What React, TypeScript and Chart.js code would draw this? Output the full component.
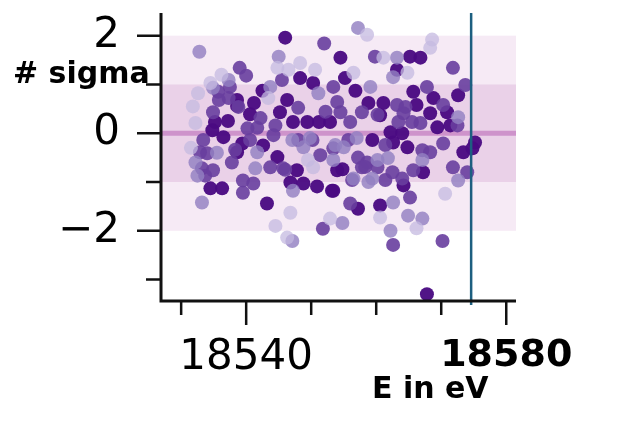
import { useEffect, useRef } from "react";
import { Chart, registerables } from "chart.js";

Chart.register(...registerables);

// residuals in units of sigma, grouped by shade (pale -> dark)
const palePoints: [number, number][] = [
  [18544.8, 1.34], [18546.5, 1.3], [18548.3, 1.44], [18550.6, 1.3], [18534.5, 1.03],
  [18532.6, 0.82], [18532.2, 0.21], [18550.3, -0.7], [18546.8, -1.63], [18544.5, -1.9],
  [18552.9, -1.75], [18546.3, -2.14], [18558.6, 2.02], [18568.6, 1.92], [18568.3, 1.75],
  [18561.1, 1.55], [18564.8, 1.24], [18556.5, 1.24], [18570.6, -1.24], [18560.6, -1.73],
  [18531.8, 0.55], [18536.2, 1.2], [18549.5, -0.55], [18566.2, -1.95], [18531.5, -0.3],
  [18543.4, 0.72]
];
const lightPoints: [number, number][] = [
  [18532.8, 1.67], [18545, 1.57], [18543.7, 0.95], [18534.9, 0.93], [18541.7, -0.39],
  [18547.1, -0.14], [18548.8, -0.29], [18541.4, -0.72], [18547.2, -1.18], [18533.2, -1.42],
  [18547.1, -2.21], [18532.5, -0.87], [18532.2, -0.6], [18537.3, 1.09], [18557.2, 2.16],
  [18563.2, 1.55], [18562.6, 1.15], [18559.1, 0.95], [18572.6, 0.33], [18557, -0.1],
  [18555, -0.29], [18561.8, -0.51], [18559.4, -0.93], [18562.6, -1.42], [18554.8, -1.84],
  [18564.9, -1.69], [18567.1, -1.75], [18562.2, -2.0], [18556.5, -0.93], [18572.6, -0.97],
  [18535.5, -0.4], [18551.1, 0.82], [18549.8, -0.1], [18553.7, -0.24], [18553.4, -0.55],
  [18560.2, -0.55], [18558.8, -1.0], [18567.1, -0.55]
];
const midPoints: [number, number][] = [
  [18552, 1.84], [18539, 1.34], [18540, 1.18], [18545.5, 1.09], [18535.7, 0.85],
  [18537.5, 0.95], [18535.8, 0.68], [18534.9, 0.43], [18542.2, 0.31], [18540.2, 0.1],
  [18544.5, 0.16], [18533.4, -0.14], [18540.6, -0.14], [18544.2, -0.04], [18550.2, -0.14],
  [18532.9, -0.39], [18534, -0.41], [18537.8, -0.6], [18551.4, -0.45], [18553.4, -0.31],
  [18533.2, -0.72], [18533.7, -0.87], [18543.7, -0.7], [18545.7, -0.72], [18539.5, -0.97],
  [18541.1, -1.03], [18539.5, -1.22], [18551.8, -1.96], [18534.9, -0.76], [18537.3, 0.72],
  [18559.8, 1.57], [18571.8, 1.34], [18553.4, 0.95], [18567.8, 0.95], [18573.7, 0.99],
  [18554, 0.64], [18563.2, 0.58], [18570.3, 0.58], [18554.5, 0.43], [18557.8, 0.43],
  [18564.2, 0.41], [18556, 0.23], [18563.4, 0.23], [18565.5, 0.23], [18566.8, 0.21],
  [18572.5, 0.16], [18567.1, -0.35], [18568.3, -0.39], [18570.3, -0.21], [18558.6, -0.6],
  [18560.2, -0.7], [18557.8, -0.7], [18562.5, -0.8], [18565.7, -0.76], [18571.8, -0.7],
  [18574, -0.8], [18564, -0.93], [18565.2, -1.32], [18556, -1.44], [18562.6, -2.29],
  [18570.2, -2.21], [18541.7, 0.11], [18538.8, 0.54], [18538.3, -0.34], [18546, -0.75],
  [18548, 0.52], [18552.2, 0.44], [18560.2, 0.38], [18548, -0.14], [18555.7, -0.14],
  [18561.4, -0.24], [18557.2, -0.5], [18558.3, -0.69], [18556.3, -0.96], [18561.4, -0.96],
  [18564.5, 0.54]
];
const darkPoints: [number, number][] = [
  [18546, 1.96], [18548.3, 1.13], [18550.3, 1.03], [18542.5, 0.87], [18538.6, 0.56],
  [18541.2, 0.62], [18546.3, 0.68], [18540.6, 0.39], [18545.2, 0.43], [18535.2, 0.23],
  [18537.2, 0.25], [18534.8, 0.06], [18547.2, 0.23], [18549.4, 0.23], [18551.2, 0.23],
  [18552.9, 0.23], [18536.5, -0.08], [18539.4, -0.21], [18542.6, -0.25], [18538.6, -0.39],
  [18544.8, -0.49], [18547.8, -0.76], [18554, -0.76], [18534.5, -1.13], [18536.3, -1.13],
  [18546.8, -1.01], [18548.8, -1.03], [18550.9, -1.09], [18553.2, -1.18], [18543.2, -1.44],
  [18538.6, 0.68], [18554.5, 1.55], [18565.2, 1.57], [18566.8, 1.55], [18563.2, 1.3],
  [18555.2, 1.13], [18556.8, 0.87], [18565.7, 0.85], [18572.6, 0.78], [18568.8, 0.72],
  [18561.1, 0.62], [18558.8, 0.62], [18566.2, 0.58], [18560.6, 0.37], [18568.3, 0.41],
  [18570.9, 0.43], [18569.4, 0.12], [18571.4, 0.16], [18562.2, 0.02], [18564, 0.0],
  [18559.4, -0.14], [18562.6, -0.19], [18564.8, -0.29], [18575.2, -0.19], [18573.4, -0.39],
  [18574.8, -0.31], [18554.8, -0.74], [18567.2, -0.8], [18564.2, -1.07], [18553.4, -1.18],
  [18557.2, -1.55], [18560.6, -1.48], [18567.8, -3.3]
];

const shadeColors = [
  "rgba(196, 186, 224, 0.75)",
  "rgba(146, 128, 194, 0.82)",
  "rgba(104, 62, 158, 0.9)",
  "rgba(74, 10, 130, 0.96)"
];

const xTicks = [18530, 18540, 18550, 18560, 18570, 18580];
const xMajor = [18540, 18580];
const yTicks = [-3, -2, -1, 0, 1, 2];
const yMajor = [-2, 0, 2];
const cutoffEnergy = 18574.6;

const decor = {
  id: "decor",
  beforeDatasetsDraw(chart: any) {
    const { ctx, chartArea: a, scales } = chart;
    const y = scales.y;
    ctx.save();
    ctx.fillStyle = "#f6eaf5";
    ctx.fillRect(a.left, y.getPixelForValue(2), a.right - a.left, y.getPixelForValue(-2) - y.getPixelForValue(2));
    ctx.fillStyle = "#ead1e8";
    ctx.fillRect(a.left, y.getPixelForValue(1), a.right - a.left, y.getPixelForValue(-1) - y.getPixelForValue(1));
    ctx.strokeStyle = "rgba(203, 140, 200, 0.9)";
    ctx.lineWidth = 5;
    const y0 = y.getPixelForValue(0);
    ctx.beginPath();
    ctx.moveTo(a.left, y0);
    ctx.lineTo(a.right, y0);
    ctx.stroke();
    ctx.restore();
  },
  afterDatasetsDraw(chart: any) {
    const { ctx, chartArea: a, scales } = chart;
    const xs = scales.x;
    const ys = scales.y;
    ctx.save();
    // cut-off line
    const xc = xs.getPixelForValue(cutoffEnergy);
    ctx.strokeStyle = "#1d5f80";
    ctx.lineWidth = 2.5;
    ctx.beginPath();
    ctx.moveTo(xc, a.top);
    ctx.lineTo(xc, a.bottom + 4);
    ctx.stroke();
    // axes
    ctx.strokeStyle = "#111";
    ctx.lineWidth = 3;
    ctx.beginPath();
    ctx.moveTo(a.left, a.top);
    ctx.lineTo(a.left, a.bottom + 1.5);
    ctx.moveTo(a.left - 1.5, a.bottom);
    ctx.lineTo(a.right, a.bottom);
    ctx.stroke();
    ctx.lineWidth = 2.5;
    ctx.beginPath();
    for (const v of yTicks) {
      const p = ys.getPixelForValue(v);
      ctx.moveTo(a.left - (yMajor.includes(v) ? 24 : 15), p);
      ctx.lineTo(a.left, p);
    }
    for (const v of xTicks) {
      const p = xs.getPixelForValue(v);
      ctx.moveTo(p, a.bottom);
      ctx.lineTo(p, a.bottom + (xMajor.includes(v) ? 24 : 14));
    }
    ctx.stroke();
    // axis titles
    ctx.fillStyle = "#000";
    ctx.font = "bold 30px 'DejaVu Sans'";
    ctx.textBaseline = "alphabetic";
    ctx.textAlign = "left";
    ctx.fillText("# sigma", 13, 83);
    ctx.fillText("E in eV", 372, 398);
    ctx.restore();
  }
};

export default function App() {
  const canvasRef = useRef<HTMLCanvasElement | null>(null);

  useEffect(() => {
    if (!canvasRef.current) return;
    const groups = [palePoints, lightPoints, midPoints, darkPoints];
    const chart = new Chart(canvasRef.current, {
      type: "scatter",
      data: {
        datasets: groups.map((pts, i) => ({
          data: pts.map(([x, y]) => ({ x, y })),
          backgroundColor: shadeColors[i],
          borderWidth: 0,
          pointRadius: 7,
          pointHoverRadius: 7
        }))
      },
      options: {
        animation: false,
        responsive: true,
        maintainAspectRatio: false,
        layout: { padding: { left: 0, top: 13, right: 113, bottom: 0 } },
        plugins: { legend: { display: false }, tooltip: { enabled: false } },
        scales: {
          x: {
            type: "linear",
            min: 18526.9,
            max: 18581.5,
            afterBuildTicks: (s: any) => {
              s.ticks = xTicks.map((value) => ({ value }));
            },
            afterFit: (s: any) => {
              s.height = 123;
              s.paddingLeft = 0;
              s.paddingRight = 0;
              s.paddingTop = 0;
              s.paddingBottom = 0;
            },
            grid: { display: false, drawTicks: false },
            border: { display: false },
            ticks: {
              autoSkip: false,
              maxRotation: 0,
              padding: 32,
              color: "#000",
              callback: (v: any) => (xMajor.includes(Number(v)) ? String(v) : ""),
              font: (ctx: any) =>
                ctx.tick && ctx.tick.value === 18580
                  ? { family: "'DejaVu Sans'", size: 38, weight: "bold" }
                  : { family: "'DejaVu Sans'", size: 42, weight: "normal" }
            }
          },
          y: {
            type: "linear",
            min: -3.44,
            max: 2.465,
            afterBuildTicks: (s: any) => {
              s.ticks = yTicks.map((value) => ({ value }));
            },
            afterFit: (s: any) => {
              s.width = 161;
              s.paddingLeft = 0;
              s.paddingRight = 0;
              s.paddingTop = 0;
              s.paddingBottom = 0;
            },
            grid: { display: false, drawTicks: false },
            border: { display: false },
            ticks: {
              autoSkip: false,
              padding: 41,
              color: "#000",
              font: { family: "'DejaVu Sans'", size: 42 },
              callback: (v: any) => {
                const n = Number(v);
                if (!yMajor.includes(n)) return "";
                return n < 0 ? "\u2212" + Math.abs(n) : String(n);
              }
            }
          }
        }
      },
      plugins: [decor]
    });
    return () => chart.destroy();
  }, []);

  return (
    <div style={{ position: "absolute", left: 0, top: 0, width: 629, height: 424, background: "#fff" }}>
      <canvas ref={canvasRef} />
    </div>
  );
}
